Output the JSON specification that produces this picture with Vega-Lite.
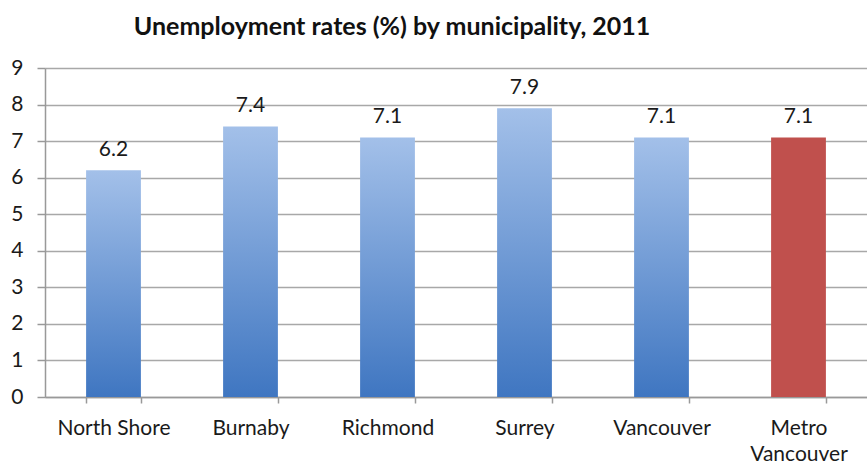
{
  "$schema": "https://vega.github.io/schema/vega-lite/v6.json",
  "autosize": "none",
  "width": 822,
  "height": 329,
  "padding": {"left": 45, "top": 68, "right": 0, "bottom": 71},
  "background": "white",
  "title": {
    "text": "Unemployment rates (%) by municipality, 2011",
    "anchor": "start",
    "dx": 123,
    "offset": 17,
    "font": "Lato",
    "fontSize": 25,
    "fontWeight": "bold",
    "color": "#111"
  },
  "data": {
    "values": [
      {"area": "North Shore", "rate": 6.2, "group": "muni"},
      {"area": "Burnaby", "rate": 7.4, "group": "muni"},
      {"area": "Richmond", "rate": 7.1, "group": "muni"},
      {"area": "Surrey", "rate": 7.9, "group": "muni"},
      {"area": "Vancouver", "rate": 7.1, "group": "muni"},
      {"area": "Metro Vancouver", "rate": 7.1, "group": "metro"}
    ]
  },
  "config": {
    "view": {"stroke": null},
    "font": "Lato"
  },
  "encoding": {
    "x": {
      "field": "area",
      "type": "nominal",
      "sort": null,
      "scale": {"paddingInner": 0.6, "paddingOuter": 0.3},
      "axis": {
        "title": null,
        "labelAngle": 0,
        "labelFont": "Lato",
        "labelFontSize": 21,
        "labelColor": "#1a1a1a",
        "labelPadding": 14,
        "labelLineHeight": 26,
        "labelExpr": "datum.label == 'Metro Vancouver' ? ['Metro', 'Vancouver'] : datum.label",
        "domainColor": "#999",
        "domainWidth": 1.5,
        "tickColor": "#999",
        "tickWidth": 1.5,
        "tickSize": 6,
        "tickBand": "extent",
        "grid": false
      }
    },
    "y": {
      "field": "rate",
      "type": "quantitative",
      "scale": {"domain": [0, 9], "nice": false},
      "axis": {
        "title": null,
        "values": [0, 1, 2, 3, 4, 5, 6, 7, 8, 9],
        "labelFont": "Lato",
        "labelFontSize": 21,
        "labelColor": "#1a1a1a",
        "labelPadding": 14,
        "domainColor": "#999",
        "domainWidth": 1.5,
        "tickColor": "#999",
        "tickWidth": 1.5,
        "tickSize": 8,
        "gridColor": "#a8a8a8",
        "gridWidth": 1.5
      }
    }
  },
  "layer": [
    {
      "transform": [{"filter": "datum.group == 'muni'"}],
      "mark": {
        "type": "bar",
        "color": {
          "gradient": "linear",
          "x1": 0, "y1": 0, "x2": 0, "y2": 1,
          "stops": [
            {"offset": 0, "color": "#a3c0e9"},
            {"offset": 1, "color": "#3f76c1"}
          ]
        }
      }
    },
    {
      "transform": [{"filter": "datum.group == 'metro'"}],
      "mark": {"type": "bar", "color": "#c0504d"}
    },
    {
      "mark": {"type": "text", "baseline": "bottom", "dy": -10, "font": "Lato", "fontSize": 21, "color": "#1a1a1a"},
      "encoding": {
        "text": {"field": "rate", "type": "quantitative", "format": ".1f"}
      }
    }
  ]
}
